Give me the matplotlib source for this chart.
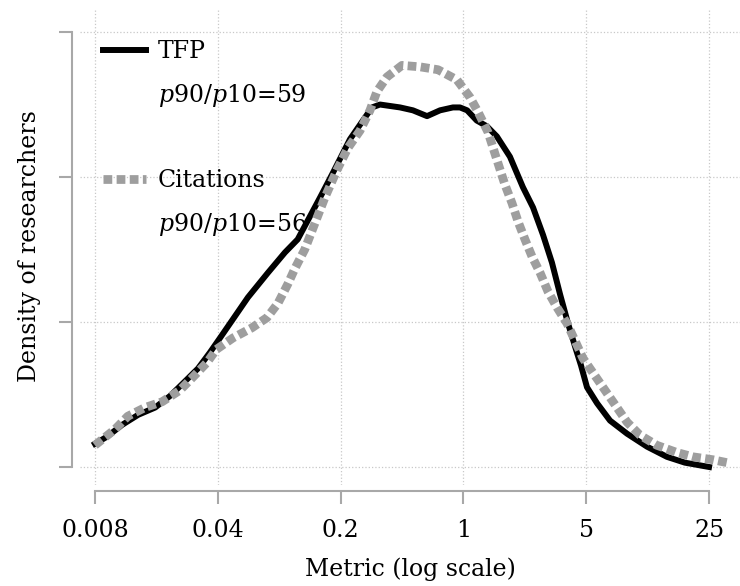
import matplotlib
matplotlib.use("Agg")
import matplotlib.pyplot as plt
from matplotlib.lines import Line2D

plt.rcParams['font.family'] = ['DejaVu Serif']
plt.rcParams['mathtext.fontset'] = 'dejavuserif'
plt.rcParams['font.size'] = 17

# density curves (x = metric, y = density, arbitrary units)
tfp_x = [0.008, 0.0094, 0.0114, 0.0141, 0.0176, 0.0214, 0.026, 0.0309, 0.0361, 0.0412,
         0.0482, 0.0594, 0.0772, 0.0965, 0.114, 0.153, 0.181, 0.226, 0.268, 0.302,
         0.335, 0.436, 0.516, 0.621, 0.736, 0.872, 0.956, 1.05, 1.19, 1.36,
         1.55, 1.84, 2.18, 2.49, 2.84, 3.19, 3.55, 3.94, 4.32, 4.67,
         5.05, 5.76, 6.83, 8.53, 11.1, 14.4, 18.2, 25.0]
tfp_y = [0.16, 0.21, 0.29, 0.36, 0.41, 0.49, 0.59, 0.68, 0.79, 0.89,
         1.01, 1.17, 1.34, 1.48, 1.57, 1.86, 2.03, 2.26, 2.39, 2.48,
         2.50, 2.48, 2.46, 2.42, 2.46, 2.48, 2.48, 2.46, 2.39, 2.35,
         2.28, 2.14, 1.93, 1.79, 1.60, 1.41, 1.19, 0.99, 0.83, 0.70,
         0.55, 0.44, 0.32, 0.23, 0.14, 0.07, 0.03, 0.0]

cit_x = [0.008, 0.0104, 0.0123, 0.0154, 0.0193, 0.0244, 0.0289, 0.0347, 0.0392, 0.0488,
         0.0626, 0.0762, 0.0881, 0.1, 0.11, 0.125, 0.163, 0.191, 0.22, 0.258,
         0.294, 0.322, 0.367, 0.447, 0.566, 0.717, 0.919, 1.09, 1.21, 1.38,
         1.55, 1.72, 1.89, 2.05, 2.24, 2.46, 2.73, 3.03, 3.41, 3.89,
         4.32, 4.79, 5.46, 6.39, 7.48, 8.53, 10.1, 12.6, 16.4, 20.3,
         26.3, 31.6]
cit_y = [0.15, 0.26, 0.35, 0.41, 0.45, 0.53, 0.62, 0.72, 0.81, 0.89,
         0.96, 1.03, 1.13, 1.26, 1.37, 1.50, 1.86, 2.05, 2.20, 2.32,
         2.46, 2.59, 2.69, 2.77, 2.76, 2.74, 2.67, 2.55, 2.45, 2.31,
         2.12, 1.95, 1.82, 1.69, 1.57, 1.45, 1.34, 1.21, 1.10, 0.99,
         0.87, 0.75, 0.65, 0.53, 0.41, 0.31, 0.22, 0.15, 0.10, 0.07,
         0.05, 0.03]

xticks = [0.008, 0.04, 0.2, 1, 5, 25]
xticklabels = ['0.008', '0.04', '0.2', '1', '5', '25']
yticks = [0, 1, 2, 3]

labels = ['TFP', '$p$90/$p$10=59', '', 'Citations', '$p$90/$p$10=56']

spine_col = '#a8a8a8'
grey = '#9e9e9e'

fig = plt.figure(figsize=(7.4, 5.86), dpi=100)
ax = fig.add_axes([0.108, 0.1724, 0.892, 0.814])

ax.plot(tfp_x, tfp_y, color='black', lw=4.3, solid_joinstyle='round', zorder=3)
ax.plot(cit_x, cit_y, color=grey, lw=6.3, dashes=(1.0, 0.5),
        dash_capstyle='butt', zorder=4)

ax.set_xscale('log')
ax.set_xlim(0.00657, 37.5)
ax.set_ylim(-0.124, 3.166)
ax.set_xticks(xticks)
ax.set_xticklabels(xticklabels)
ax.minorticks_off()
ax.set_yticks(yticks)
ax.set_yticklabels([])

ax.grid(True, color='#c8c8c8', linestyle=':', linewidth=0.9)
ax.set_axisbelow(True)

for side in ['top', 'right']:
    ax.spines[side].set_visible(False)
ax.spines['left'].set_position(('outward', 5.8))
ax.spines['bottom'].set_position(('outward', 4.3))
ax.spines['left'].set_bounds(0, 3)
ax.spines['bottom'].set_bounds(0.008, 25)
for side in ['left', 'bottom']:
    ax.spines[side].set_color(spine_col)
    ax.spines[side].set_linewidth(1.5)
ax.tick_params(axis='both', direction='out', length=9.5, width=1.5,
               color=spine_col, labelsize=17)
ax.tick_params(axis='x', pad=11)

ax.set_xlabel('Metric (log scale)', fontsize=17, labelpad=11)
ax.set_ylabel('Density of researchers', fontsize=17, labelpad=9.5)

blank = Line2D([], [], color='none')
handles = [Line2D([], [], color='black', lw=4.3), blank, blank,
           Line2D([], [], color=grey, lw=6.3, dashes=(1.0, 0.5), dash_capstyle='butt'),
           blank]
ax.legend(handles, labels, loc='upper left', bbox_to_anchor=(0.035, 0.932),
          frameon=False, borderpad=0, borderaxespad=0, handlelength=1.82,
          handletextpad=0.5, labelspacing=0.79, fontsize=17)

fig.savefig('out.png', dpi=100)
